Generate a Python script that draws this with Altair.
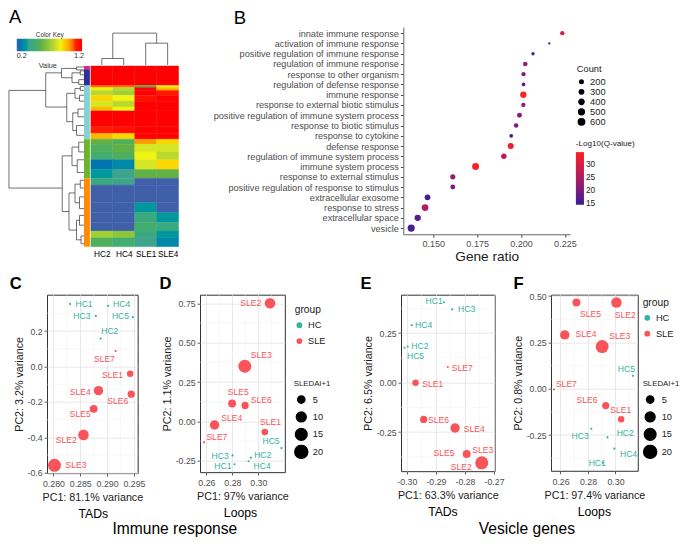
import json
import altair as alt
import pandas as pd

S = 0.975


def p(v):
    return round(v * S, 2)


def a(v):
    return round(v * S * S, 2)


FONT = "Liberation Sans"
TXT = "#1a1a1a"
GRAY = "#4d4d4d"
HC_COL = "#35b29d"
SLE_COL = "#f8545a"

# ---------------- A : heatmap data ----------------
samples = ["HC2", "HC4", "SLE1", "SLE4"]
block_start = [0, 20, 22, 25, 30, 36, 42, 46, 62, 69, 75, 80, 88, 96, 106, 115, 122, 140, 150, 160, 169, 176]
block_end = [20, 22, 25, 30, 36, 42, 46, 62, 69, 75, 80, 88, 96, 106, 115, 122, 140, 150, 160, 169, 176, 185]
hm_HC2 = [1.25, 1.10, 0.90, 0.80, 0.95, 0.85, 1.00, 1.25, 1.15, 1.00, 0.60, 0.55, 0.50, 0.25, 0.35, 0.45, 0.20, 0.20, 0.20, 0.20, 0.75, 0.55]
hm_HC4 = [1.25, 1.10, 0.80, 0.75, 0.90, 0.80, 0.90, 1.25, 1.20, 0.95, 0.55, 0.60, 0.55, 0.30, 0.40, 0.40, 0.20, 0.20, 0.20, 0.20, 0.70, 0.50]
hm_SLE1 = [1.25, 0.60, 1.25, 1.25, 1.20, 1.25, 1.25, 1.25, 1.25, 1.25, 1.05, 0.85, 0.90, 0.85, 0.60, 0.20, 0.20, 0.35, 0.45, 0.50, 0.45, 0.40]
hm_SLE4 = [1.25, 0.90, 1.00, 1.15, 1.25, 1.25, 1.25, 1.25, 1.25, 1.25, 0.95, 0.85, 0.80, 0.95, 0.60, 0.20, 0.20, 0.20, 0.35, 0.45, 0.35, 0.30]
hm_key_domain = [0.2, 0.4, 0.6, 0.8, 0.9, 1.05, 1.15, 1.25]
hm_key_colors = ["#3f5fa9", "#3ea58c", "#62b146", "#b9d92c", "#f3f314", "#ff9a00", "#ff1a00", "#ff0000"]
key_ticks = [0.2, 0.7, 1.2]

side_start = [0, 3.3, 20, 75, 115]
side_end = [3.3, 20, 75, 115, 185]
side_colors = ["#ec1e8c", "#2e2f96", "#85d2d2", "#6db42c", "#ff8c00"]

# row dendrogram: vertical links (height, row from, row to) and horizontal links (row, child height, parent height)
rv_h = [1.0, 0.51, 0.30, 0.10, 0.16, 0.05, 0.07, 0.23, 0.12, 0.05, 0.06, 0.15, 0.08, 0.10,
        0.29, 0.16, 0.07, 0.09, 0.20, 0.12, 0.05, 0.06, 0.10, 0.06, 0.04]
rv_r1 = [25, 7, 2.5, 1, 7, 5, 14, 28, 23, 21, 30, 48, 44, 61, 92, 83, 78, 96, 130, 121, 117, 134, 158, 153, 174]
rv_r2 = [125, 42, 12, 4, 17, 9, 19, 57, 33, 25, 36, 66, 52, 71, 149, 102, 88, 109, 168, 140, 125, 146, 178, 163, 182]
rh_r = [25, 125, 7, 42, 2.5, 12, 1, 4, 7, 17, 5, 9, 14, 19, 28, 57, 23, 33, 21, 25, 30, 36, 48, 66, 44, 52, 61, 71,
        92, 149, 83, 102, 78, 88, 96, 109, 130, 168, 121, 140, 117, 125, 134, 146, 158, 178, 153, 163, 174, 182]
rh_h1 = [0.51, 0.29, 0.30, 0.23, 0.10, 0.16, 0, 0, 0.05, 0.07, 0, 0, 0, 0, 0.12, 0.15, 0.05, 0.06, 0, 0, 0, 0, 0.08, 0.10, 0, 0, 0, 0,
         0.16, 0.20, 0.07, 0.09, 0, 0, 0, 0, 0.12, 0.10, 0.05, 0.06, 0, 0, 0, 0, 0.06, 0.04, 0, 0, 0, 0]
rh_h2 = [1.0, 1.0, 0.51, 0.51, 0.30, 0.30, 0.10, 0.10, 0.16, 0.16, 0.05, 0.05, 0.07, 0.07, 0.23, 0.23, 0.12, 0.12, 0.05, 0.05, 0.06, 0.06,
         0.15, 0.15, 0.08, 0.08, 0.10, 0.10, 0.29, 0.29, 0.16, 0.16, 0.07, 0.07, 0.09, 0.09, 0.20, 0.20, 0.12, 0.12, 0.05, 0.05,
         0.06, 0.06, 0.10, 0.10, 0.06, 0.06, 0.04, 0.04]

# column dendrogram segments (column position, height)
cd_x1 = [0, 1, 0, 2, 3, 2, 0.5, 2.5, 0.5]
cd_x2 = [0, 1, 1, 2, 3, 3, 0.5, 2.5, 2.5]
cd_h1 = [0, 0, 0.205, 0, 0, 0.685, 0.205, 0.685, 1.0]
cd_h2 = [0.205, 0.205, 0.205, 0.685, 0.685, 0.685, 1.0, 1.0, 1.0]

# ---------------- B : GO enrichment ----------------
terms = ["innate immune response", "activation of immune response", "positive regulation of immune response",
         "regulation of immune response", "response to other organism", "regulation of defense response",
         "immune response", "response to external biotic stimulus", "positive regulation of immune system process",
         "response to biotic stimulus", "response to cytokine", "defense response",
         "regulation of immune system process", "immune system process", "response to external stimulus",
         "positive regulation of response to stimulus", "extracellular exosome", "response to stress",
         "extracellular space", "vesicle"]
gene_ratio = [0.2235, 0.2161, 0.2068, 0.2024, 0.2014, 0.2014, 0.2013, 0.2013, 0.1991, 0.1972,
              0.1944, 0.1941, 0.1902, 0.1741, 0.1611, 0.1611, 0.1467, 0.1453, 0.1411, 0.1374]
gene_count = [292, 100, 195, 326, 292, 222, 600, 292, 374, 326, 222, 553, 452, 720, 412, 374, 508, 680, 600, 780]
neg_log_q = [30, 14.7, 17, 23, 21, 18, 35, 21.5, 22, 21, 15, 33, 27, 34.5, 23, 21, 15.5, 26, 17, 16]
count_breaks = [200, 300, 400, 500, 600]
q_breaks = [15, 20, 25, 30]

# ---------------- C-F : PCA ----------------
pca_samples = ["HC1", "HC2", "HC3", "HC4", "HC5", "SLE1", "SLE2", "SLE3", "SLE4", "SLE5", "SLE6", "SLE7"]
pca_groups = ["HC"] * 5 + ["SLE"] * 7
sledai_plus1 = [1, 1, 1, 1, 1, 4, 12, 20, 9, 6, 5, 1]
sledai_breaks = [5, 10, 15, 20]

c_pc1 = [0.2831, 0.2888, 0.2879, 0.2902, 0.2948, 0.2943, 0.2856, 0.2802, 0.2884, 0.2875, 0.2945, 0.2916]
c_pc2 = [0.354, 0.158, 0.286, 0.343, 0.279, -0.040, -0.386, -0.558, -0.136, -0.239, -0.156, 0.088]
c_lx = [0.2857, 0.2905, 0.2853, 0.2927, 0.2925, 0.2910, 0.2824, 0.2842, 0.2850, 0.2850, 0.2920, 0.2895]
c_ly = [0.354, 0.200, 0.286, 0.351, 0.286, -0.050, -0.415, -0.558, -0.146, -0.266, -0.192, 0.044]

d_pc1 = [0.2817, 0.2943, 0.2802, 0.2925, 0.3178, 0.3050, 0.3090, 0.2896, 0.2663, 0.2798, 0.2898, 0.2582]
d_pc2 = [-0.272, -0.230, -0.216, -0.253, -0.169, -0.068, 0.750, 0.350, -0.023, 0.114, 0.101, -0.133]
d_lx = [0.2727, 0.3034, 0.2706, 0.3029, 0.3098, 0.3094, 0.2941, 0.3022, 0.2795, 0.2845, 0.3022, 0.2681]
d_ly = [-0.286, -0.216, -0.220, -0.280, -0.127, -0.004, 0.752, 0.423, 0.023, 0.185, 0.136, -0.096]

e_pc1 = [-0.2872, -0.2997, -0.2844, -0.2983, -0.3008, -0.2970, -0.2745, -0.2742, -0.2834, -0.2794, -0.2942, -0.2859]
e_pc2 = [0.406, 0.182, 0.370, 0.290, 0.176, 0.000, -0.410, -0.405, -0.229, -0.360, -0.186, 0.079]
e_lx = [-0.2906, -0.2955, -0.2794, -0.2942, -0.2970, -0.2911, -0.2813, -0.2739, -0.2768, -0.2872, -0.2891, -0.2809]
e_ly = [0.414, 0.186, 0.370, 0.293, 0.135, -0.005, -0.426, -0.342, -0.236, -0.353, -0.190, 0.074]

f_pc1 = [0.2907, 0.2941, 0.2824, 0.2991, 0.3127, 0.3041, 0.3007, 0.2903, 0.2631, 0.2716, 0.2929, 0.2553]
f_pc2 = [-0.400, -0.263, -0.216, -0.323, 0.070, -0.165, 0.466, 0.228, 0.291, 0.466, -0.091, -0.004]
f_lx = [0.2867, 0.3071, 0.2743, 0.3095, 0.3079, 0.3038, 0.3071, 0.3031, 0.2786, 0.2819, 0.2793, 0.2643]
f_ly = [-0.400, -0.240, -0.255, -0.350, 0.109, -0.117, 0.400, 0.284, 0.298, 0.404, -0.062, 0.026]

# =====================================================================
# Panel A
hm_vals = {"HC2": hm_HC2, "HC4": hm_HC4, "SLE1": hm_SLE1, "SLE4": hm_SLE4}
hm_df = pd.DataFrame([
    {"col": j, "r0": block_start[i], "r1": block_end[i], "value": hm_vals[s][i]}
    for i in range(len(block_start)) for j, s in enumerate(samples)
])
x_hm = alt.Scale(domain=[-0.5, 3.5], range=[p(46), p(136)], nice=False, zero=False)
y_rows = alt.Scale(domain=[0, 185], range=[p(40), p(225.3)], nice=False, zero=False)
hm_color = alt.Scale(domain=hm_key_domain, range=hm_key_colors)

heat = alt.Chart(hm_df).transform_calculate(
    c0="datum.col - 0.5", c1="datum.col + 0.5"
).mark_rect(strokeWidth=0.4).encode(
    x=alt.X("c0:Q", scale=x_hm, axis=alt.Axis(
        orient="bottom", values=[0, 1, 2, 3], labelExpr=json.dumps(samples) + "[datum.value]",
        domain=False, ticks=False, grid=False, title=None, labelFont=FONT, labelFontSize=p(8.5),
        labelColor="#000", labelPadding=p(3))),
    x2="c1:Q",
    y=alt.Y("r0:Q", scale=y_rows, axis=None),
    y2="r1:Q",
    color=alt.Color("value:Q", scale=hm_color, legend=alt.Legend(
        orient="none", legendX=p(-30), legendY=p(5.5), direction="horizontal", title="Color Key",
        titleFont=FONT, titleFontSize=p(6.5), titleFontWeight="normal", titleColor="#333",
        titleAnchor="middle", titlePadding=0, gradientLength=p(67), gradientThickness=p(13),
        values=key_ticks, labelExpr="datum.value == 0.7 ? ['', 'Value'] : datum.label",
        labelFont=FONT, labelFontSize=p(7.5), labelColor="#333", labelOffset=1, gradientStrokeWidth=0)),
    stroke=alt.Stroke("value:Q", scale=hm_color, legend=None),
)

side_df = pd.DataFrame({"r0": side_start, "r1": side_end, "color": side_colors})
side = alt.Chart(side_df).transform_calculate(c0="0", c1="1").mark_rect().encode(
    x=alt.X("c0:Q", scale=alt.Scale(domain=[0, 1], range=[p(39), p(45)]), axis=None),
    x2="c1:Q",
    y=alt.Y("r0:Q", scale=y_rows, axis=None),
    y2="r1:Q",
    color=alt.Color("color:N", scale=None, legend=None),
)

rseg = pd.DataFrame({
    "h1": rv_h + rh_h1, "h2": rv_h + rh_h2,
    "r1": rv_r1 + rh_r, "r2": rv_r2 + rh_r,
})
rden = alt.Chart(rseg).mark_rule(color="#333", strokeWidth=0.7).encode(
    x=alt.X("h1:Q", scale=alt.Scale(domain=[0, 1], range=[p(39), p(-38)], nice=False, zero=False), axis=None),
    x2="h2:Q",
    y=alt.Y("r1:Q", scale=y_rows, axis=None),
    y2="r2:Q",
)

cseg = pd.DataFrame({"x1": cd_x1, "x2": cd_x2, "h1": cd_h1, "h2": cd_h2})
cden = alt.Chart(cseg).mark_rule(color="#333", strokeWidth=0.7).encode(
    x=alt.X("x1:Q", scale=x_hm, axis=None),
    x2="x2:Q",
    y=alt.Y("h1:Q", scale=alt.Scale(domain=[0, 1], range=[p(39), p(6.3)], nice=False, zero=False), axis=None),
    y2="h2:Q",
)

panelA = alt.layer(rden, cden, side, heat).resolve_scale(
    x="independent", y="independent", color="independent"
).properties(
    width=p(138), height=p(225.3),
    title=alt.TitleParams("A", anchor="start", frame="group", dx=p(-38), offset=0,
                          font=FONT, fontSize=p(19), fontWeight="normal", color="#000"),
)

# =====================================================================
# Panel B
b_df = pd.DataFrame({"term": terms, "ratio": gene_ratio, "count": gene_count, "q": neg_log_q})
panelB = alt.Chart(b_df).mark_circle(opacity=1).encode(
    x=alt.X("ratio:Q", scale=alt.Scale(domain=[0.1329, 0.2279], nice=False, zero=False), axis=alt.Axis(
        values=[0.150, 0.175, 0.200, 0.225], format=".3f", title="Gene ratio", grid=False,
        labelFont=FONT, labelFontSize=p(9.3), labelColor=GRAY, labelPadding=p(2), labelFlush=False,
        tickColor=GRAY, tickSize=p(3), domainColor="#666", domainWidth=1,
        titleFont=FONT, titleFontSize=p(14), titleFontWeight="normal", titleColor=TXT, titlePadding=p(1))),
    y=alt.Y("term:N", sort=terms, scale=alt.Scale(type="point", padding=0.6), axis=alt.Axis(
        title=None, grid=False, labelFont=FONT, labelFontSize=p(9.4), labelColor=GRAY, labelLimit=400,
        labelPadding=p(2), tickColor=GRAY, tickSize=p(3), domainColor="#666", domainWidth=1)),
    size=alt.Size("count:Q", scale=alt.Scale(domain=[100, 600], range=[a(5.7), a(41.9)], zero=False),
                  legend=alt.Legend(orient="none", legendX=p(178), legendY=p(39), title="Count", values=count_breaks,
                                    titleFont=FONT, titleFontSize=p(9.5), titleFontWeight="normal", titleColor=TXT,
                                    labelFont=FONT, labelFontSize=p(9.5), labelColor=TXT, symbolFillColor="#000",
                                    symbolStrokeColor="#000", symbolType="circle", rowPadding=0,
                                    clipHeight=p(9.5), titlePadding=p(3))),
    color=alt.Color("q:Q", scale=alt.Scale(domain=[14.6, 35], range=["#2a1d9c", "#ff1f1f"], interpolate="lab"),
                    legend=alt.Legend(orient="none", legendX=p(177), legendY=p(116), title="-Log10(Q-value)",
                                      values=q_breaks, gradientLength=p(54), gradientThickness=p(8.3),
                                      titleFont=FONT, titleFontSize=p(8.3), titleFontWeight="normal", titleColor=TXT,
                                      labelFont=FONT, labelFontSize=p(8.5), labelColor=TXT, titlePadding=p(4),
                                      gradientStrokeWidth=0)),
    order=alt.Order("count:Q", sort="descending"),
).properties(
    width=p(171), height=p(212.6),
    title=alt.TitleParams("B", anchor="start", frame="group", dx=p(-174), offset=-1,
                          font=FONT, fontSize=p(19), fontWeight="normal", color="#000"),
)

# =====================================================================
# Panels C-F
group_scale = alt.Scale(domain=["HC", "SLE"], range=[HC_COL, SLE_COL])
size_scale = alt.Scale(type="pow", exponent=0.7, domain=[1, 20], range=[a(5), a(177)])


def q_axis(maj, fmt, title, orient, label_pad, title_pad):
    return alt.Axis(
        values=maj, orient=orient, title=title,
        labelExpr="(datum.value < 0 ? '-' : '') + format(abs(datum.value), '%s')" % fmt,
        labelOverlap=False, labelFlush=False, labelFont=FONT, labelFontSize=p(9), labelColor=GRAY,
        labelPadding=label_pad, tickColor="#333", tickSize=p(3), tickWidth=0.8,
        grid=True, gridColor="#e3e3e3", gridWidth=0.8,
        domain=False, titleFont=FONT, titleFontSize=p(11), titleFontWeight="normal", titleColor=TXT,
        titlePadding=title_pad)


def pca_legends(gx, gy, sx, sy):
    col_leg = alt.Legend(orient="none", legendX=p(gx), legendY=p(gy), title="group",
                         titleFont=FONT, titleFontSize=p(10.5), titleFontWeight="normal", titleColor=TXT,
                         labelFont=FONT, labelFontSize=p(9.5), labelColor=TXT, symbolType="circle",
                         symbolSize=a(35), symbolStrokeWidth=0, symbolOpacity=1, rowPadding=p(6),
                         titlePadding=p(5))
    size_leg = alt.Legend(orient="none", legendX=p(sx), legendY=p(sy), title="SLEDAI+1", values=sledai_breaks,
                          titleFont=FONT, titleFontSize=p(8), titleFontWeight="normal", titleColor=TXT,
                          labelFont=FONT, labelFontSize=p(9.5), labelColor=TXT, symbolType="circle",
                          symbolFillColor="#000", symbolStrokeColor="#000", symbolOpacity=1,
                          rowPadding=p(2.5), clipHeight=p(15), titlePadding=p(5))
    return col_leg, size_leg


def pca_df(pc1, pc2, lx, ly):
    return pd.DataFrame({"sample": pca_samples, "group": pca_groups, "sledai": sledai_plus1,
                         "pc1": pc1, "pc2": pc2, "lx": lx, "ly": ly})


def pca_panel(pc1, pc2, lx, ly, xdom, ydom, xmaj, xmin, ymaj, ymin, xfmt, yfmt,
              xtitle, ytitle, w, h, bottom_text, bottom_dx, legend_pos=None):
    df = pca_df(pc1, pc2, lx, ly)
    xs = alt.Scale(domain=xdom, nice=False, zero=False)
    ys = alt.Scale(domain=ydom, nice=False, zero=False)
    xa = q_axis(xmaj, xfmt, xtitle, "bottom", p(4), p(4))
    ya = q_axis(ymaj, yfmt, ytitle, "left", p(2), p(3))
    if legend_pos:
        col_leg, size_leg = pca_legends(*legend_pos)
    else:
        col_leg, size_leg = None, None
    mx = pd.DataFrame({"pc1": [v for v in xmin if xdom[0] <= v <= xdom[1]]})
    my = pd.DataFrame({"pc2": [v for v in ymin if ydom[0] <= v <= ydom[1]]})
    minor_x = alt.Chart(mx).mark_rule(color="#f0f0f0", strokeWidth=0.5).encode(
        x=alt.X("pc1:Q", scale=xs, axis=xa))
    minor_y = alt.Chart(my).mark_rule(color="#f0f0f0", strokeWidth=0.5).encode(
        y=alt.Y("pc2:Q", scale=ys, axis=ya))
    pts = alt.Chart(df).mark_circle(opacity=1).encode(
        x=alt.X("pc1:Q", scale=xs, axis=xa),
        y=alt.Y("pc2:Q", scale=ys, axis=ya),
        color=alt.Color("group:N", scale=group_scale, legend=col_leg),
        size=alt.Size("sledai:Q", scale=size_scale, legend=size_leg),
    )
    txt = alt.Chart(df).mark_text(font=FONT, fontSize=p(8.8)).encode(
        x=alt.X("lx:Q", scale=xs, axis=xa),
        y=alt.Y("ly:Q", scale=ys, axis=ya),
        text="sample:N",
        color=alt.Color("group:N", scale=group_scale, legend=None),
    )
    return alt.layer(minor_x, minor_y, pts, txt).properties(
        width=p(w), height=p(h),
        view=alt.ViewBackground(stroke="#333", strokeWidth=1),
        title=alt.TitleParams(bottom_text, orient="bottom", anchor="middle", frame="group", dx=p(bottom_dx),
                              offset=p(6), font=FONT, fontSize=p(12.5), fontWeight="normal", color="#000"),
    )


def spacer(w, h, title):
    return alt.Chart(pd.DataFrame({"z": [0]})).mark_point(opacity=0).properties(
        width=p(w), height=p(h), title=title)


def legend_spacer(df, w, h, title, legend_pos):
    col_leg, size_leg = pca_legends(*legend_pos)
    return alt.Chart(df).mark_circle(opacity=0).encode(
        color=alt.Color("group:N", scale=group_scale, legend=col_leg),
        size=alt.Size("sledai:Q", scale=size_scale, legend=size_leg),
    ).properties(width=p(w), height=p(h), title=title)


def letter(text, dx):
    return alt.TitleParams(text, anchor="start", frame="group", dx=p(dx), offset=p(2.6),
                           font=FONT, fontSize=p(17), fontWeight="bold", color="#000")


def group_label(text, dx):
    return alt.TitleParams(text, orient="bottom", anchor="middle", frame="group", dx=p(dx), offset=p(50),
                           font=FONT, fontSize=p(16), fontWeight="normal", color="#000")


panelC = pca_panel(c_pc1, c_pc2, c_lx, c_ly, [0.2788, 0.2957], [-0.602, 0.406],
                   [0.280, 0.285, 0.290, 0.295], [0.2775, 0.2825, 0.2875, 0.2925],
                   [-0.6, -0.4, -0.2, 0.0, 0.2], [-0.5, -0.3, -0.1, 0.1, 0.3], ".3f", ".1f",
                   "PC1: 81.1% variance", "PC2: 3.2% variance", 93, 183, "TADs", 1)
panelD = pca_panel(d_pc1, d_pc2, d_lx, d_ly, [0.2551, 0.3204], [-0.322, 0.804],
                   [0.26, 0.28, 0.30], [0.27, 0.29, 0.31],
                   [-0.25, 0.0, 0.25, 0.5, 0.75], [-0.125, 0.125, 0.375, 0.625], ".2f", ".2f",
                   "PC1: 97% variance", "PC2: 1.1% variance", 87, 182, "Loops", -2)
panelE = pca_panel(e_pc1, e_pc2, e_lx, e_ly, [-0.302, -0.2698], [-0.447, 0.444],
                   [-0.30, -0.29, -0.28, -0.27], [-0.295, -0.285, -0.275],
                   [-0.25, 0.0, 0.25], [-0.375, -0.125, 0.125, 0.375], ".2f", ".2f",
                   "PC1: 63.3% variance", "PC2: 6.5% variance", 96, 181, "TADs", -5)
panelF = pca_panel(f_pc1, f_pc2, f_lx, f_ly, [0.2531, 0.3162], [-0.443, 0.508],
                   [0.26, 0.28, 0.30], [0.27, 0.29, 0.31],
                   [-0.25, 0.0, 0.25, 0.5], [-0.375, -0.125, 0.125, 0.375], ".2f", ".2f",
                   "PC1: 97.4% variance", "PC2: 0.8% variance", 89, 180.6, "Loops", 0,
                   legend_pos=(94, 3.5, 94, 87))

sp0 = spacer(1, 183, letter("C", -37.3))
sp1 = spacer(63, 183, letter("D", 22))
# legends of panel D sit in the gap to its right (origin at the right edge of D)
sp2a = legend_spacer(pca_df(d_pc1, d_pc2, d_lx, d_ly), 59, 183, group_label("Immune response", -142.5),
                     (10, 11, 9, 87))
sp2b = spacer(59, 183, letter("E", 18))
sp3 = spacer(57, 183, letter("F", 19))
sp4 = spacer(1, 183, group_label("Vesicle genes", -114.5))

indep = dict(color="independent", size="independent", stroke="independent")

top = alt.hconcat(panelA, panelB, spacing=p(228), bounds="flush").resolve_scale(**indep).resolve_legend(**indep)
bottom = alt.hconcat(sp0, panelC, sp1, panelD, sp2a, sp2b, panelE, sp3, panelF, sp4,
                     spacing=0, bounds="flush").resolve_scale(**indep).resolve_legend(**indep)

chart = alt.vconcat(top, bottom, spacing=p(12)).resolve_scale(**indep).resolve_legend(**indep).properties(
    padding={"left": 0, "top": 0, "right": 0, "bottom": 0}
).configure(font=FONT).configure_view(strokeWidth=0).configure_legend(padding=0)

chart.save("out.html", embed_options={"renderer": "svg", "actions": False})
